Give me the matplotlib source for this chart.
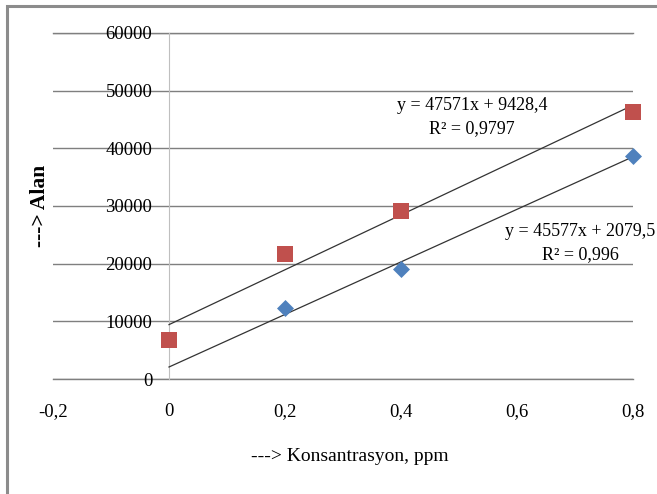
import numpy as np
import matplotlib.pyplot as plt
from matplotlib.patches import Rectangle

# veriler
x_ticks = [-0.2, 0, 0.2, 0.4, 0.6, 0.8]
x_tick_labels = ['-0,2', '0', '0,2', '0,4', '0,6', '0,8']
y_ticks = [0, 10000, 20000, 30000, 40000, 50000, 60000]
y_tick_labels = ['0', '10000', '20000', '30000', '40000', '50000', '60000']

blue_x = [0.2, 0.4, 0.8]
blue_y = [12300, 19000, 38700]
red_x = [0, 0.2, 0.4, 0.8]
red_y = [6800, 21700, 29100, 46300]

# trend cizgileri (grafikteki denklemler)
blue_fit = (45577, 2079.5)
red_fit = (47571, 9428.4)
fit_x = [0, 0.8]

plt.rcParams['font.family'] = ['Liberation Serif', 'DejaVu Serif']

fig = plt.figure(figsize=(6.57, 4.94), dpi=100)
ax = fig.add_axes([53 / 657, 115 / 494, 580 / 657, 346 / 494])

# cerceve (sadece sol ve ust gorunuyor)
fig.patches.append(Rectangle((7 / 657, -0.1), 1.2, (494 - 6) / 494 + 0.1,
                             transform=fig.transFigure, fill=False,
                             edgecolor='#8c8c8c', linewidth=2.2))

for fx, (m, b) in [(fit_x, red_fit), (fit_x, blue_fit)]:
    fx = np.array(fx)
    ax.plot(fx, m * fx + b, color='#333333', linewidth=0.9, zorder=3)

ax.scatter(blue_x, blue_y, marker='D', s=75, color='#4F81BD', zorder=4,
           linewidths=0, clip_on=False)
ax.scatter(red_x, red_y, marker='s', s=135, color='#C0504D', zorder=4,
           linewidths=0, clip_on=False)

ax.set_xlim(-0.2, 0.8)
ax.set_ylim(0, 60000)
ax.set_xticks(x_ticks)
ax.set_xticklabels(x_tick_labels)
ax.set_yticks(y_ticks)
ax.set_yticklabels(y_tick_labels)

ax.yaxis.grid(True, color='#7f7f7f', linewidth=1.0)
ax.axhline(0, color='#7f7f7f', linewidth=1.0, clip_on=False, zorder=0.5)
ax.axhline(60000, color='#7f7f7f', linewidth=1.0, clip_on=False, zorder=0.5)
ax.set_axisbelow(True)
for s in ['top', 'right', 'bottom']:
    ax.spines[s].set_visible(False)
ax.spines['left'].set_position(('data', 0))
ax.spines['left'].set_color('#bfbfbf')
ax.tick_params(axis='both', length=0, labelsize=13.5)
ax.tick_params(axis='x', pad=17)
ax.tick_params(axis='y', pad=12)

fig.text(40 / 657, 1 - 206 / 494, '---> Alan', rotation=90, ha='center',
         va='center', fontsize=15.5, fontweight='bold')
fig.text(350 / 657, 1 - 456 / 494, '---> Konsantrasyon, ppm', ha='center',
         va='center', fontsize=14)

fig.text(472 / 657, 1 - 105 / 494, 'y = 47571x + 9428,4', ha='center',
         va='center', fontsize=13)
fig.text(472 / 657, 1 - 129 / 494, 'R² = 0,9797', ha='center',
         va='center', fontsize=13)
fig.text(580 / 657, 1 - 231 / 494, 'y = 45577x + 2079,5', ha='center',
         va='center', fontsize=13)
fig.text(580 / 657, 1 - 255 / 494, 'R² = 0,996', ha='center',
         va='center', fontsize=13)

plt.savefig('out.png', dpi=100)
